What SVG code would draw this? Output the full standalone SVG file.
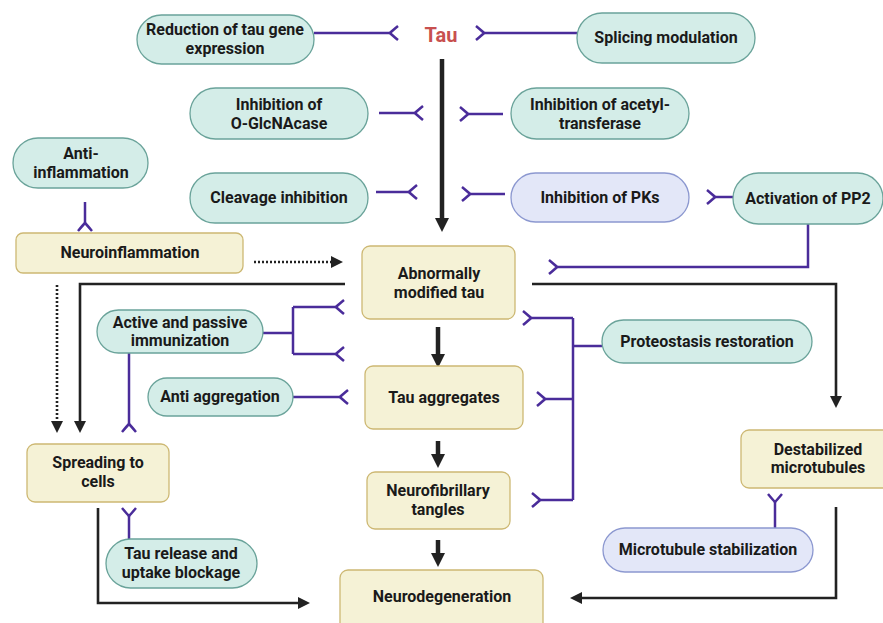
<svg xmlns="http://www.w3.org/2000/svg" width="883" height="623" viewBox="0 0 883 623">
<style>
.t{font-family:Roboto,"Liberation Sans",Arial,sans-serif;font-weight:700;font-size:16px;fill:#1a1a1a;text-anchor:middle}
.teal{fill:#d4ede8;stroke:#6aa39a;stroke-width:1.3}
.lav{fill:#e3e7f8;stroke:#8c98d0;stroke-width:1.3}
.yel{fill:#f5f2d6;stroke:#cdb873;stroke-width:1.3}
.inh{fill:none;stroke:#4a2c9a;stroke-width:2.5;marker-end:url(#fork)}
.pl{fill:none;stroke:#4a2c9a;stroke-width:2.5}
.blk{fill:none;stroke:#222;stroke-width:2.6;marker-end:url(#arr)}
.dot{fill:none;stroke:#222;stroke-width:2.6;stroke-dasharray:2 2;marker-end:url(#arr)}
.thk{fill:none;stroke:#222;stroke-width:4.5;marker-end:url(#arrT)}
</style>
<defs>
<marker id="fork" markerUnits="userSpaceOnUse" viewBox="-2 -9 12 18" refX="0" refY="0" markerWidth="12" markerHeight="18" orient="auto" overflow="visible">
<path d="M8,-7 Q2,-2 0,0 Q2,2 8,7" fill="none" stroke="#4a2c9a" stroke-width="2.5"/>
</marker>
<marker id="arr" markerUnits="userSpaceOnUse" viewBox="0 0 12 12" refX="1" refY="6" markerWidth="12" markerHeight="12" orient="auto">
<path d="M0,0 L12,6 L0,12 z" fill="#222"/>
</marker>
<marker id="arrT" markerUnits="userSpaceOnUse" viewBox="0 0 14 14" refX="1" refY="7" markerWidth="14" markerHeight="14" orient="auto">
<path d="M0,0 L14,7 L0,14 z" fill="#222"/>
</marker>
</defs>

<g id="connectors">
<path class="inh" d="M314,33 H390"/>
<path class="inh" d="M577,33 H484"/>
<path class="inh" d="M379,113 H415"/>
<path class="inh" d="M503,114 H468"/>
<path class="inh" d="M376,192 H409"/>
<path class="inh" d="M505,194 H470"/>
<path class="inh" d="M733,197 H715"/>
<path class="inh" d="M808,224 V267 H557"/>
<path class="inh" d="M85,202 V223"/>
<path class="inh" d="M129,353 V424"/>
<path class="pl" d="M263,333 H293 M293,307 V354"/>
<path class="inh" d="M293,307 H336"/>
<path class="inh" d="M293,354 H336"/>
<path class="inh" d="M293,397 H340"/>
<path class="inh" d="M129,539 V516"/>
<path class="inh" d="M775,528 V502"/>
<path class="pl" d="M602,346 H573 M573,318 V500"/>
<path class="inh" d="M573,318 H531"/>
<path class="inh" d="M573,399 H545"/>
<path class="inh" d="M573,500 H540"/>
<path class="thk" d="M442,59 V219"/>
<path class="dot" d="M254,262 H332"/>
<path class="blk" d="M345,284 H80 V422"/>
<path class="dot" d="M57,285 V422"/>
<path class="blk" d="M532,284 H836 V397"/>
<path class="thk" d="M438,327 V355"/>
<path class="thk" d="M438,441 V455"/>
<path class="thk" d="M438,540 V554"/>
<path class="blk" d="M98,508 V603 H299"/>
<path class="blk" d="M836,507 V598 H581"/>
</g>

<g id="tau"><text x="441" y="42" style="font-family:Roboto,'Liberation Sans',Arial,sans-serif;font-weight:700;font-size:20px;fill:#c8504f;text-anchor:middle">Tau</text></g>

<g id="reduction"><rect class="teal" x="137" y="15" width="177" height="49" rx="24.5"/><text class="t" x="225" y="35">Reduction of tau gene</text><text class="t" x="225" y="54">expression</text></g>
<g id="splicing"><rect class="teal" x="577" y="13" width="178" height="50" rx="25"/><text class="t" x="666" y="43">Splicing modulation</text></g>
<g id="oglcnacase"><rect class="teal" x="190" y="88" width="178" height="51" rx="25.5"/><text class="t" x="279" y="110">Inhibition of</text><text class="t" x="279" y="129">O-GlcNAcase</text></g>
<g id="acetyl"><rect class="teal" x="511" y="88" width="178" height="51" rx="25.5"/><text class="t" x="600" y="110">Inhibition of acetyl-</text><text class="t" x="600" y="129">transferase</text></g>
<g id="antiinflammation"><rect class="teal" x="13" y="138" width="135" height="50" rx="25"/><text class="t" x="81" y="159">Anti-</text><text class="t" x="81" y="178">inflammation</text></g>
<g id="cleavage"><rect class="teal" x="190" y="173" width="178" height="50" rx="25"/><text class="t" x="279" y="203">Cleavage inhibition</text></g>
<g id="pks"><rect class="lav" x="511" y="173" width="178" height="49" rx="24.5"/><text class="t" x="600" y="203">Inhibition of PKs</text></g>
<g id="pp2"><rect class="teal" x="733" y="173" width="150" height="51" rx="25.5"/><text class="t" x="808" y="204">Activation of PP2</text></g>
<g id="neuroinflammation"><rect class="yel" x="16" y="233" width="227" height="40" rx="7"/><text class="t" x="130" y="258">Neuroinflammation</text></g>
<g id="abnormal"><rect class="yel" x="362" y="246" width="153" height="73" rx="8"/><text class="t" x="439" y="279">Abnormally</text><text class="t" x="439" y="298">modified tau</text></g>
<g id="immunization"><rect class="teal" x="97" y="310" width="166" height="43" rx="21.5"/><text class="t" x="180" y="328">Active and passive</text><text class="t" x="180" y="346">immunization</text></g>
<g id="proteostasis"><rect class="teal" x="602" y="320" width="210" height="43" rx="21.5"/><text class="t" x="707" y="347">Proteostasis restoration</text></g>
<g id="antiaggregation"><rect class="teal" x="148" y="378" width="145" height="38" rx="19"/><text class="t" x="220" y="402">Anti aggregation</text></g>
<g id="aggregates"><rect class="yel" x="365" y="366" width="158" height="63" rx="8"/><text class="t" x="444" y="403">Tau aggregates</text></g>
<g id="destabilized"><rect class="yel" x="741" y="430" width="150" height="58" rx="8"/><text class="t" x="818" y="455">Destabilized</text><text class="t" x="818" y="473">microtubules</text></g>
<g id="spreading"><rect class="yel" x="27" y="444" width="142" height="58" rx="8"/><text class="t" x="98" y="468">Spreading to</text><text class="t" x="98" y="487">cells</text></g>
<g id="nft"><rect class="yel" x="367" y="472" width="143" height="57" rx="8"/><text class="t" x="438" y="496">Neurofibrillary</text><text class="t" x="438" y="515">tangles</text></g>
<g id="mtstab"><rect class="lav" x="603" y="528" width="210" height="44" rx="22"/><text class="t" x="708" y="555">Microtubule stabilization</text></g>
<g id="release"><rect class="teal" x="106" y="539" width="151" height="49" rx="24.5"/><text class="t" x="181" y="559">Tau release and</text><text class="t" x="181" y="578">uptake blockage</text></g>
<g id="neurodegeneration"><rect class="yel" x="340" y="570" width="203" height="62" rx="8"/><text class="t" x="442" y="602">Neurodegeneration</text></g>
</svg>
